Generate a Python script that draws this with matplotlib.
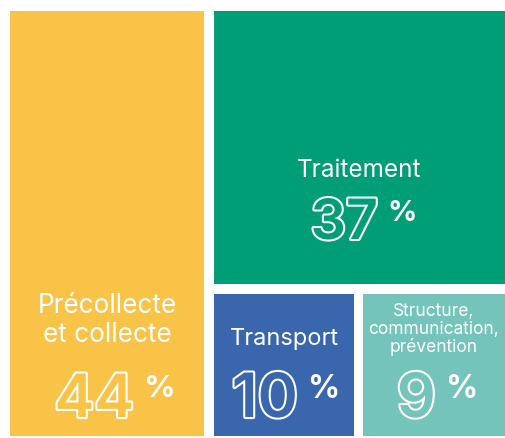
import matplotlib
matplotlib.use("Agg")
import matplotlib.pyplot as plt
import matplotlib.patheffects as pe
from matplotlib.patches import Rectangle

# data
labels = ["Précollecte\net collecte", "Traitement", "Transport",
          "Structure,\ncommunication,\nprévention"]
shares = [44, 37, 10, 9]
colors = ["#F9C347", "#009E77", "#3A66AD", "#74C4BB"]

# layout of the tiles (pixel box: x0, y0, x1, y1)
W, H = 506, 439
tiles = [(10, 12, 204, 437), (214, 12, 505, 285),
         (214, 295, 354, 437), (363, 295, 505, 437)]

# text placement: label baseline (last line), label size, number baseline,
# number size, split x between number and %
label_y = [342, 177, 345, 352]
label_size = [18.8, 17.5, 17, 12.5]
label_lh = [29, 0, 0, 18]
num_y = [418, 240, 418, 418]
num_size = [43, 40, 44, 44]
split_x = [134, 378, 298, 436]

fig = plt.figure(figsize=(W / 100, H / 100), dpi=100)
ax = fig.add_axes([0, 0, 1, 1])
ax.set_xlim(0, W)
ax.set_ylim(H, 0)
ax.axis("off")

lab_font = ["Inter", "DejaVu Sans"]
num_font = ["Inter", "DejaVu Sans"]

for i, (lab, val, col) in enumerate(zip(labels, shares, colors)):
    x0, y0, x1, y1 = tiles[i]
    ax.add_patch(Rectangle((x0, y0), x1 - x0, y1 - y0, color=col, lw=0))
    cx = (x0 + x1) / 2
    lines = lab.split("\n")
    for j, line in enumerate(lines):
        yy = label_y[i] - (len(lines) - 1 - j) * label_lh[i]
        ax.text(cx, yy, line, color="white", fontsize=label_size[i],
                family=lab_font, ha="center", va="baseline")
    ax.text(split_x[i], num_y[i], str(val), color=col, fontsize=num_size[i],
            family=num_font, fontweight="semibold", ha="right", va="baseline",
            path_effects=[pe.withStroke(linewidth=3, foreground="white")])
    ax.text(split_x[i] + 9, num_y[i] - num_size[i] * 1.39 * 0.72, "%",
            color="white", fontsize=num_size[i] * 0.52, family=num_font,
            fontweight="bold", ha="left", va="top")

fig.savefig("out.png", dpi=100, facecolor="white")
